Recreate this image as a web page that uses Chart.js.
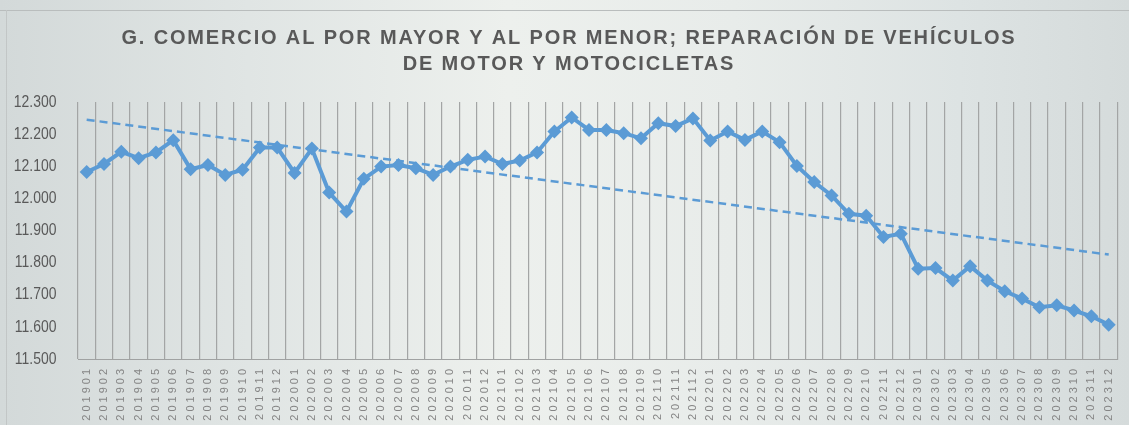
<!DOCTYPE html>
<html lang="es">
<head>
<meta charset="utf-8">
<script src="https://cdn.jsdelivr.net/npm/chart.js@4.4.1/dist/chart.umd.min.js"></script>
<style>
  html, body { margin: 0; padding: 0; }
  body {
    width: 1129px; height: 425px; overflow: hidden; position: relative;
    background: linear-gradient(90deg, #d3d9d9 0%, #e0e5e4 22%, #edf0ed 45%, #e8ecea 65%, #dde3e3 85%, #d5dbdb 100%);
  }
  .top-line { position: absolute; left: 0; right: 0; top: 10px; height: 1px; background: #b9bdbd; }
  .left-line { position: absolute; left: 6px; top: 10px; bottom: 0; width: 1px; background: #c2c6c6; }
  #wrap { position: absolute; left: 0; top: 0; width: 1129px; height: 425px; }
</style>
</head>
<body>
<div class="top-line"></div>
<div class="left-line"></div>
<div id="wrap"><canvas id="chart" width="1129" height="425"></canvas></div>
<script>
// 데이터
const periodos = [
  '201901','201902','201903','201904','201905','201906','201907','201908','201909','201910','201911','201912',
  '202001','202002','202003','202004','202005','202006','202007','202008','202009','202010','202011','202012',
  '202101','202102','202103','202104','202105','202106','202107','202108','202109','202110','202111','202112',
  '202201','202202','202203','202204','202205','202206','202207','202208','202209','202210','202211','202212',
  '202301','202302','202303','202304','202305','202306','202307','202308','202309','202310','202311','202312'
];
const valores = [
  12082, 12107, 12145, 12125, 12143, 12181, 12091, 12104, 12073, 12089, 12158, 12158,
  12079, 12155, 12018, 11959, 12061, 12099, 12104, 12094, 12073, 12099, 12120, 12130,
  12107, 12118, 12143, 12208, 12252, 12213, 12213, 12203, 12187, 12234, 12225, 12249,
  12180, 12208, 12182, 12208, 12175, 12101, 12051, 12009, 11952, 11946, 11880, 11890,
  11781, 11783, 11744, 11789, 11744, 11711, 11688, 11661, 11667, 11651, 11633, 11607
];
// 추세선 양 끝값
const tendenciaInicio = 12245;
const tendenciaFin = 11825;
const yTicks = [11500, 11600, 11700, 11800, 11900, 12000, 12100, 12200, 12300];
const titulo = [
  'G. COMERCIO AL POR MAYOR Y AL POR MENOR; REPARACIÓN DE VEHÍCULOS',
  'DE MOTOR Y MOTOCICLETAS'
];

const AZUL = '#5b9bd5';
const FONT = "'Liberation Sans', Arial, sans-serif";

// 12300 -> "12.300"
function formatMiles(v) {
  const miles = Math.floor(v / 1000);
  return miles + '.' + String(v % 1000).padStart(3, '0');
}

// 글자 간격 / 가로 압축 적용
function wrapSpacing(obj, fnName, spacing, dx, sx, ox) {
  if (!obj || obj['_ls_' + fnName]) return;
  const orig = obj[fnName].bind(obj);
  obj[fnName] = function (...args) {
    const ctx = obj.ctx;
    ctx.save();
    ctx.letterSpacing = spacing;
    if (dx) ctx.translate(dx, 0);
    if (sx) {
      ctx.translate(ox, 0);
      ctx.scale(sx, 1);
      ctx.translate(-ox, 0);
    }
    orig(...args);
    ctx.restore();
  };
  obj['_ls_' + fnName] = true;
}

const spacingPlugin = {
  id: 'spacing',
  beforeLayout(chart) {
    wrapSpacing(chart.scales.x, 'drawLabels', '3px');
    wrapSpacing(chart.scales.y, 'drawLabels', '0px', 0, 0.82, 63);
    wrapSpacing(chart.titleBlock, 'draw', '1.85px', 10);
  }
};

new Chart(document.getElementById('chart'), {
  type: 'line',
  data: {
    labels: periodos,
    datasets: [
      {
        label: 'G',
        data: valores,
        borderColor: AZUL,
        backgroundColor: AZUL,
        borderWidth: 4,
        pointStyle: 'rectRot',
        pointRadius: 7,
        pointBorderWidth: 0,
        tension: 0,
        order: 1
      },
      {
        label: 'Lineal',
        data: [
          { x: periodos[0], y: tendenciaInicio },
          { x: periodos[periodos.length - 1], y: tendenciaFin }
        ],
        borderColor: AZUL,
        borderWidth: 2.5,
        borderDash: [8, 5],
        pointRadius: 0,
        order: 2
      }
    ]
  },
  options: {
    responsive: false,
    animation: false,
    devicePixelRatio: 1,
    layout: { padding: { left: 0, right: 11, top: 0, bottom: 0 } },
    plugins: {
      legend: { display: false },
      tooltip: { enabled: false },
      title: {
        display: true,
        text: titulo,
        color: '#595959',
        font: { family: FONT, size: 20, weight: 'bold', lineHeight: 1.3 },
        padding: { top: 25, bottom: 25 }
      }
    },
    scales: {
      x: {
        offset: true,
        grid: { offset: true, color: '#a3a5a5', lineWidth: 1.2, drawTicks: false },
        border: { display: true, color: '#a0a2a2', width: 1 },
        ticks: {
          autoSkip: false,
          minRotation: 90,
          maxRotation: 90,
          color: '#858585',
          font: { family: FONT, size: 11 },
          padding: 7
        },
        afterFit(scale) { scale.height = 66; }
      },
      y: {
        min: 11500,
        max: 12300,
        afterBuildTicks(scale) { scale.ticks = yTicks.map(v => ({ value: v })); },
        grid: { display: false },
        border: { display: false },
        ticks: {
          color: '#595959',
          font: { family: FONT, size: 17 },
          padding: 15,
          callback: v => formatMiles(v)
        },
        afterFit(scale) { scale.width = 78; }
      }
    }
  },
  plugins: [spacingPlugin]
});
</script>
</body>
</html>
